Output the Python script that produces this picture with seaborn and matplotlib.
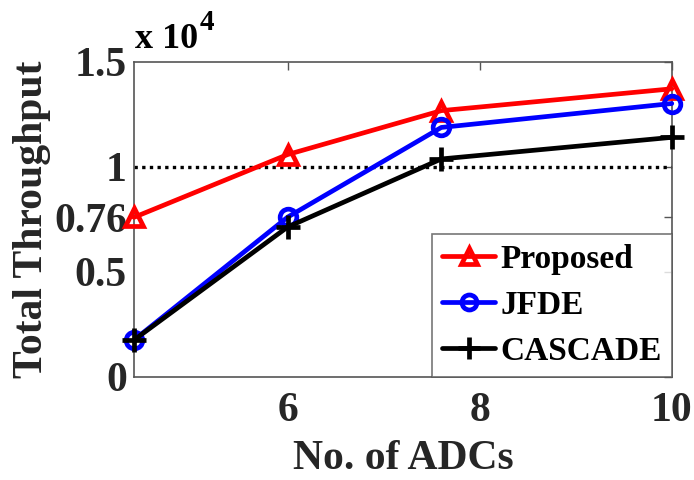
import matplotlib
matplotlib.use("Agg")
import matplotlib.pyplot as plt
import seaborn as sns
import pandas as pd

# Number of ADCs and total throughput (in units of 1e4)
adcs = [4.4, 6, 7.6, 10]
proposed = [0.76, 1.059, 1.268, 1.372]
jfde = [0.176, 0.761, 1.188, 1.302]
cascade = [0.176, 0.714, 1.038, 1.141]

series_names = ["Proposed", "JFDE", "CASCADE"]
series_colors = ["#ff0000", "#0000ff", "#000000"]

yticks = [0, 0.5, 0.76, 1, 1.5]
ytick_labels = ["0", "0.5", "0.76", "1", "1.5"]
xticks = [6, 8, 10]

df = pd.concat([
    pd.DataFrame({"ADCs": adcs, "Throughput": vals, "Method": name})
    for name, vals in zip(series_names, [proposed, jfde, cascade])
], ignore_index=True)

sns.set_theme(style="white")
plt.rcParams["font.family"] = ["Liberation Serif", "DejaVu Serif"]
plt.rcParams["font.weight"] = "bold"

fig = plt.figure(figsize=(6.94, 4.8), dpi=100)
ax = fig.add_axes([0.193, 0.2146, 0.775, 0.6564])

ax.axhline(1.0, color="black", linestyle=(0, (1, 1.3)), linewidth=2.4, zorder=1)

sns.lineplot(data=df, x="ADCs", y="Throughput", hue="Method",
             palette=dict(zip(series_names, series_colors)),
             hue_order=series_names, ax=ax, linewidth=3.4, legend=False,
             zorder=3)

mk = {"Proposed": dict(marker="^", ms=13, mfc="none"),
      "JFDE": dict(marker="o", ms=12, mfc="none"),
      "CASCADE": dict(marker="+", ms=17, mfc="black")}
for line, name, color in zip(ax.lines[1:], series_names, series_colors):
    line.set_marker(mk[name]["marker"])
    line.set_markersize(mk[name]["ms"])
    line.set_markerfacecolor(mk[name]["mfc"])
    line.set_markeredgecolor(color)
    line.set_markeredgewidth(3.4)
    line.set_clip_on(False)
    line.set_label(name)

ax.set_xlim(4.4, 10)
ax.set_ylim(0, 1.5)
ax.set_xticks(xticks)
ax.set_xticklabels([str(t) for t in xticks])
ax.set_yticks(yticks)
ax.set_yticklabels(ytick_labels)

axis_color = "#262626"
for sp in ax.spines.values():
    sp.set_visible(True)
    sp.set_color("#555555")
    sp.set_linewidth(1.2)
ax.tick_params(axis="both", direction="in", length=6, width=1.0,
               color="#555555", labelsize=30, labelcolor=axis_color,
               top=True, right=True)
ax.tick_params(axis="x", pad=11)
ax.tick_params(axis="y", pad=5)
for lbl in ax.get_xticklabels() + ax.get_yticklabels():
    lbl.set_fontweight("bold")

ax.set_xlabel("No. of ADCs", fontsize=30, fontweight="bold", color=axis_color,
              labelpad=7)
ax.set_ylabel("Total Throughput", fontsize=30, fontweight="bold",
              color=axis_color, labelpad=2)

# Scale factor shown above the y axis
fig.text(0.195, 0.9, "x 10", fontsize=26, fontweight="bold",
         color="black", ha="left", va="baseline")
fig.text(0.288, 0.938, "4", fontsize=21, fontweight="bold",
         color="black", ha="left", va="baseline")

leg = ax.legend(handles=ax.lines[1:], labels=series_names, loc="lower right",
                bbox_to_anchor=(1.0, 0.0), borderaxespad=0,
                prop={"weight": "bold", "size": 24}, frameon=True,
                fancybox=False, edgecolor="#555555", handlelength=1.6,
                handletextpad=0.15, borderpad=0.3, labelspacing=0.45,
                markerscale=0.9)
leg.get_frame().set_linewidth(1.2)
for t in leg.get_texts():
    t.set_color("black")

fig.savefig("out.png", dpi=100, facecolor="white")
